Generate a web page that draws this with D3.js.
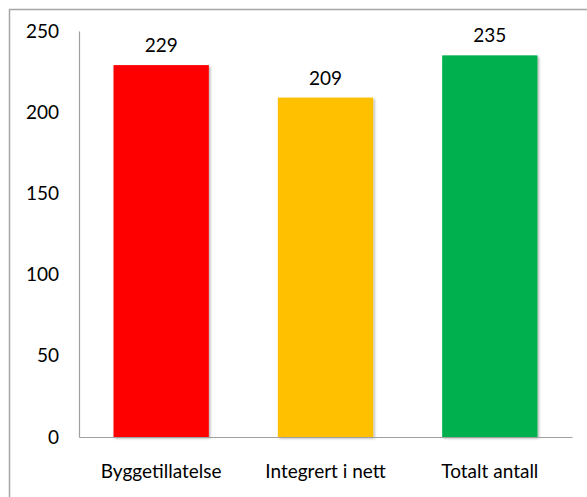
<!DOCTYPE html>
<html>
<head>
<meta charset="utf-8">
<script src="https://cdn.jsdelivr.net/npm/d3@7"></script>
<style>
  body { margin: 0; background: #fff; }
  svg { display: block; font-family: Lato, "Open Sans", sans-serif; }
</style>
</head>
<body>
<svg width="587" height="497"></svg>
<script>
const categories = ['Byggetillatelse', 'Integrert i nett', 'Totalt antall']
const values = [229, 209, 235]
const colors = ['#ff0000', '#ffc000', '#00b050']
const yTicks = [0, 50, 100, 150, 200, 250]

const svg = d3.select('svg')
const width = +svg.attr('width')
const height = +svg.attr('height')

// outer frame: only top and left edges are visible
svg.append('path')
    .attr('d', `M9.5,${height} V9.5 H${width}`)
    .attr('fill', 'none')
    .attr('stroke', '#a6a6a6')
    .attr('stroke-width', 1.5)

const margin = {top: 31, left: 79}
const innerWidth = 572 - margin.left
const innerHeight = 437 - margin.top
const fontSize = 19

const defs = svg.append('defs')
const f = defs.append('filter').attr('id', 'shadow')
    .attr('x', '-10%').attr('y', '-10%').attr('width', '120%').attr('height', '120%')
f.append('feDropShadow')
    .attr('dx', 1.5).attr('dy', 1.5).attr('stdDeviation', 1.2)
    .attr('flood-color', '#000').attr('flood-opacity', 0.3)

const g = svg.append('g').attr('transform', `translate(${margin.left},${margin.top})`)

const xScale = d3.scaleBand()
    .domain(categories)
    .range([0, innerWidth])
    .paddingInner(0.42)
    .paddingOuter(0.21)

const yScale = d3.scaleLinear()
    .domain([0, 250])
    .range([innerHeight, 0])

// bars
g.selectAll('rect.bar')
    .data(values)
    .enter().append('rect')
        .attr('class', 'bar')
        .attr('x', (d, i) => xScale(categories[i]))
        .attr('y', d => yScale(d))
        .attr('width', xScale.bandwidth())
        .attr('height', d => innerHeight - yScale(d))
        .attr('fill', (d, i) => colors[i])
        .attr('filter', 'url(#shadow)')

// y axis
const yAxis = d3.axisLeft(yScale)
    .tickValues(yTicks)
    .tickSize(0)
    .tickPadding(20)

const yG = g.append('g').call(yAxis)
yG.select('.domain').attr('stroke', '#a0a0a0').attr('stroke-width', 1.2)
yG.selectAll('text').attr('font-size', fontSize).attr('fill', '#000').attr('font-family', 'Lato, sans-serif')

// x axis
const xAxis = d3.axisBottom(xScale)
    .tickSize(0)
    .tickPadding(28)

const xG = g.append('g').attr('transform', `translate(0,${innerHeight})`).call(xAxis)
xG.select('.domain').attr('stroke', '#a0a0a0').attr('stroke-width', 1.2)
xG.selectAll('text').attr('font-size', fontSize).attr('fill', '#000').attr('font-family', 'Lato, sans-serif')

// value labels
g.selectAll('text.val')
    .data(values)
    .enter().append('text')
        .attr('class', 'val')
        .attr('x', (d, i) => xScale(categories[i]) + xScale.bandwidth() / 2)
        .attr('y', d => yScale(d) - 13)
        .attr('text-anchor', 'middle')
        .attr('font-size', fontSize)
        .attr('fill', '#000')
        .text(d => d)
</script>
</body>
</html>
